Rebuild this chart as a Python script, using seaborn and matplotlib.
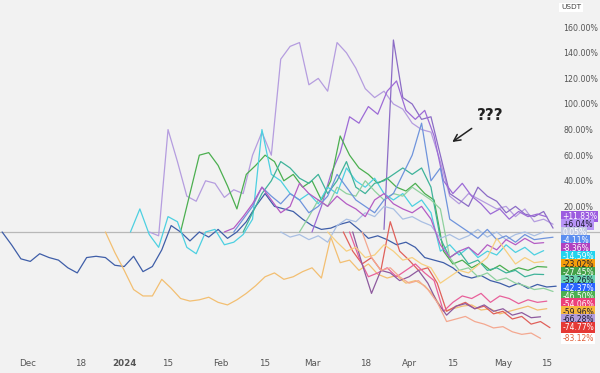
import numpy as np
import pandas as pd
import seaborn as sns
import matplotlib.pyplot as plt

# Données : variation en %, un point tous les 3 jours, jour 0 = 22 nov 2023
origin = pd.Timestamp("2023-11-22")

navy = [0, -10, -21, -23, -17, -20, -22, -28, -32, -20, -19, -20, -26, -27, -19,
        -31, -27, -14, 5, 0, -7, 0, -4, 2, -5, 0, 8, 20, 30, 20, 18, 16, 10, 5, 2,
        3, 6, 8, 2, -5, -3, -6, -10, -8, -12, -20, -22, -24, -28, -34, -36, -34,
        -38, -40, -43, -40, -44, -41, -43, -42.37]
orange = [0, -16, -30, -45, -50, -50, -37, -44, -52, -54, -53, -51, -55, -57, -53,
          -48, -42, -35, -32, -37, -35, -31, -28, -36, -4, -24, -22, -30, -25, -33,
          -36, -34, -40, -38, -42, -50, -62, -60, -58, -57, -61, -60, -64, -62, -60,
          -58, -61, -59.96]
lavender = [0, -3, 80, 55, 28, 24, 40, 38, 27, 33, 30, 60, 78, 60, 135, 145, 148,
            115, 120, 110, 148, 140, 128, 112, 105, 110, 100, 96, 85, 80, 78, 55, 28,
            22, 30, 26, 22, 18, 20, 12, 18, 8, 10, 6.04]
spike = [2, 150, 105, 100, 88, 90, 60, 30, 25, 20, 35, 28, 24, 15, 20, 14, 12, 16, 3]
violet = [0, 20, 45, 62, 90, 85, 98, 92, 110, 118, 95, 88, 95, 75, 40, 30, 38, 28,
          22, 14, 18, 10, 16, 12, 14, 11.83]
green = [0, 30, 60, 62, 52, 36, 18, 45, 52, 60, 55, 40, 45, 35, 40, 25, 40, 75, 60,
         50, 45, 38, 42, 35, 32, 38, 30, 25, -15, -25, -22, -28, -24, -30, -26, -31,
         -28, -30, -27, -27.45]
cyan = [0, 18, -2, -12, 12, 8, -12, -17, 0, 2, -10, -8, -2, 10, 80, 45, 40, 30, 25,
        30, 22, 35, 30, 50, 40, 35, 42, 30, 25, 30, 20, 25, 15, -15, -10, -18, -12,
        -20, -15, -18, -10, -16, -12, -18, -14.59]
teal = [0, 15, 30, 40, 55, 50, 42, 38, 45, 30, 40, 55, 35, 30, 38, 40, 45, 50, 45,
        50, 35, -5, -20, -15, -25, -22, -30, -28, -32, -30, -35, -33, -33.26]
mint = [0, 12, 25, 20, 35, 30, 28, 40, 32, 25, 30, 28, 35, 30, 25, 18, -20, -30,
        -28, -35, -32, -38, -36, -40, -42, -45, -44, -46.5]
paleblue = [0, -4, -2, -6, -3, -8, 5, 10, 8, 15, 12, 20, 18, 10, 12, 8, 5, -5, -2,
            -6, -3, 2, -4, 0, -6, -2, 0, -3, 0.05]
blue = [0, 10, 20, 35, 28, 22, 30, 25, 15, 20, 28, 45, 35, 25, 20, 15, 25, 30, 45,
        60, 85, 40, 50, 10, 5, 0, -5, 2, -6, -3, -8, -2, -6, -5, -4.11]
magenta = [0, 3, 12, 22, 35, 25, 15, 20, 38, 30, 25, 20, 28, 22, 18, 12, 25, 30, 22,
           18, 15, 20, 10, -10, -20, -15, -12, -18, -10, -14, -6, -10, -5, -9, -8.36]
red = [0, -15, -25, -20, -30, 8, -15, -22, -30, -28, -40, -62, -58, -55, -60, -58,
       -64, -62, -68, -66, -72, -70, -74.77]
pink = [0, -20, -35, -32, -28, -35, -30, -25, -32, -38, -62, -55, -50, -52, -48, -55,
        -50, -52, -56, -53, -55, -54.06]
plum = [0, -25, -48, -30, -32, -38, -35, -30, -40, -55, -65, -58, -56, -60, -57, -62,
        -60, -65, -63, -67, -66.28]
amber = [0, -8, -15, -12, -20, -18, -10, -15, -22, -20, -25, -28, -40, -35, -30, -32,
         -26, -20, -5, -15, -25, -20, -24, -23.02]
salmon = [0, -20, -30, -28, -35, -40, -38, -45, -55, -70, -68, -66, -70, -72, -75,
          -74, -78, -80, -79, -83.12]

# nom, couleur ligne, couleur étiquette, jour de départ, valeurs
series = [
    ("navy", "#3f5ea8", "#2962ff", 1, navy),
    ("orange", "#f3bf72", "#f6b73c", 34, orange),
    ("lavender", "#b59ddf", "#b794f6", 48, lavender),
    ("spike", "#8c6cc6", None, 123, spike),
    ("violet", "#9d6bd6", "#9c5ce0", 100, violet),
    ("green", "#4caf50", "#43a047", 58, green),
    ("cyan", "#4dd0e1", "#22d3ee", 42, cyan),
    ("teal", "#3fb39a", "#69d2b0", 78, teal),
    ("mint", "#8fd19e", "#4caf50", 96, mint),
    ("paleblue", "#a9bfe3", "#c3cbe3", 90, paleblue),
    ("blue", "#6f94dc", "#5c8ef0", 75, blue),
    ("magenta", "#b45cc4", "#b040c0", 72, magenta),
    ("red", "#e0605a", "#e53935", 110, red),
    ("pink", "#e8609a", "#ec407a", 112, pink),
    ("plum", "#8e5a9e", "#b39ddb", 113, plum),
    ("amber", "#f7cf80", "#f59e0b", 105, amber),
    ("salmon", "#f4a890", "#ffffff", 116, salmon),
]

rows = []
for name, col, box, start, vals in series:
    dates = origin + pd.to_timedelta(start + 3 * np.arange(len(vals)), unit="D")
    rows.append(pd.DataFrame({"date": dates, "pct": vals, "name": name}))
df = pd.concat(rows, ignore_index=True)
palette = {s[0]: s[1] for s in series}

sns.set_theme(style="white")
plt.rcParams["font.family"] = ["DejaVu Sans"]

fig, ax = plt.subplots(figsize=(6, 3.73), dpi=100)
ax.set_position([0, 0, 1, 1])
fig.patch.set_facecolor("#f2f2f2")
ax.set_facecolor("#f2f2f2")

ax.axhline(0, color="#b8b8b8", lw=0.9, zorder=0)
sns.lineplot(data=df, x="date", y="pct", hue="name", palette=palette,
             linewidth=0.9, legend=False, estimator=None, sort=False, ax=ax)

ax.set_xlim(origin + pd.Timedelta(days=0.32), origin + pd.Timedelta(days=192))
ax.set_ylim(-110.2, 181.25)
for sp in ax.spines.values():
    sp.set_visible(False)
ax.set_xlabel("")
ax.set_ylabel("")

xt = pd.to_datetime(["2023-12-01", "2023-12-18", "2024-01-01", "2024-01-15",
                     "2024-02-01", "2024-02-15", "2024-03-01", "2024-03-18",
                     "2024-04-01", "2024-04-15", "2024-05-01", "2024-05-15"])
xl = ["Dec", "18", "2024", "15", "Feb", "15", "Mar", "18", "Apr", "15", "May", "15"]
ax.set_xticks(xt)
ax.set_xticklabels(xl)
ax.get_xticklabels()[2].set_fontweight("bold")
ax.tick_params(axis="x", length=0, pad=-10, labelsize=6.3, colors="#555555")

ax.yaxis.tick_right()
yt = list(range(20, 161, 20))
ax.set_yticks(yt)
ax.set_yticklabels([f"{v:.2f}%" for v in yt])
ax.tick_params(axis="y", length=0, pad=-26.5, labelsize=5.7, colors="#555555")

# étiquettes de dernière valeur, à droite
ends = sorted([(s[4][-1], s[2]) for s in series if s[2]], key=lambda t: -t[0])
prev = None
for val, box in ends:
    y = val if prev is None else min(val, prev - 6.2)
    prev = y
    txt = f"+{val:.2f}%" if val > 1 else f"{val:.2f}%"
    r, g, b = [int(box[i:i + 2], 16) for i in (1, 3, 5)]
    tc = "#1a1a2e" if (0.3 * r + 0.59 * g + 0.11 * b) > 165 else "white"
    if box == "#ffffff":
        tc = "#e0603a"
    if box == "#c3cbe3":
        tc = "white"
    ax.text(0.937, y, txt, transform=ax.get_yaxis_transform(), fontsize=5.5,
            color=tc, va="center", ha="left",
            bbox=dict(boxstyle="square,pad=0.15", fc=box, ec="none"))

ax.text(0.935, 0.988, "USDT", transform=ax.transAxes, fontsize=5.3, va="top",
        ha="left", color="#444444",
        bbox=dict(boxstyle="square,pad=0.25", fc="white", ec="none"))

ax.text(0.817, 0.69, "???", transform=ax.transAxes, fontsize=11,
        fontweight="bold", ha="center", va="center", color="#222222")
ax.annotate("", xy=(0.75, 0.615), xytext=(0.79, 0.66), xycoords="axes fraction",
            arrowprops=dict(arrowstyle="->", color="#222222", lw=1.1))

fig.savefig("out.png", dpi=100, facecolor=fig.get_facecolor())
